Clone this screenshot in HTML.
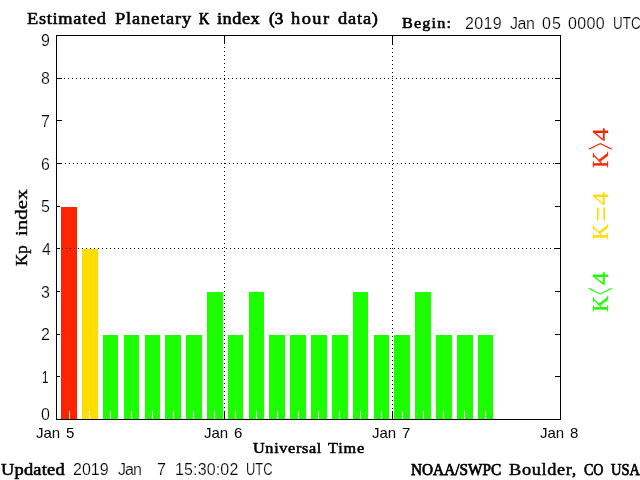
<!DOCTYPE html>
<html lang="en">
<head>
<meta charset="utf-8">
<title>Estimated Planetary K index</title>
<style>
html,body{margin:0;padding:0;background:#fff;}
body{width:640px;height:480px;position:relative;overflow:hidden;color:#000;}
svg{position:absolute;left:0;top:0;}
.t{position:absolute;white-space:pre;line-height:1;margin:0;padding:0;}
.serif{font-family:"Liberation Serif",serif;}
.sans{font-family:"Liberation Sans",sans-serif;-webkit-text-stroke:0.2px #fff;}
</style>
</head>
<body>
<svg width="640" height="480" viewBox="0 0 640 480" shape-rendering="crispEdges">
<rect x="56" y="35" width="505" height="1" fill="#000"/>
<rect x="56" y="419" width="505" height="1" fill="#000"/>
<rect x="56" y="35" width="1" height="385" fill="#000"/>
<rect x="560" y="35" width="1" height="385" fill="#000"/>
<rect x="57" y="376" width="5" height="1" fill="#000"/>
<rect x="555" y="376" width="5" height="1" fill="#000"/>
<rect x="57" y="334" width="5" height="1" fill="#000"/>
<rect x="555" y="334" width="5" height="1" fill="#000"/>
<rect x="57" y="291" width="5" height="1" fill="#000"/>
<rect x="555" y="291" width="5" height="1" fill="#000"/>
<rect x="57" y="248" width="5" height="1" fill="#000"/>
<rect x="555" y="248" width="5" height="1" fill="#000"/>
<rect x="57" y="206" width="5" height="1" fill="#000"/>
<rect x="555" y="206" width="5" height="1" fill="#000"/>
<rect x="57" y="163" width="5" height="1" fill="#000"/>
<rect x="555" y="163" width="5" height="1" fill="#000"/>
<rect x="57" y="120" width="5" height="1" fill="#000"/>
<rect x="555" y="120" width="5" height="1" fill="#000"/>
<rect x="57" y="78" width="5" height="1" fill="#000"/>
<rect x="555" y="78" width="5" height="1" fill="#000"/>
<rect x="224" y="36" width="1" height="8" fill="#000"/>
<rect x="224" y="411" width="1" height="8" fill="#000"/>
<rect x="392" y="36" width="1" height="8" fill="#000"/>
<rect x="392" y="411" width="1" height="8" fill="#000"/>
<rect x="60" y="206" width="18" height="213" fill="#fff"/>
<rect x="61" y="207" width="16" height="212" fill="#ff2400"/>
<rect x="81" y="248" width="18" height="171" fill="#fff"/>
<rect x="82" y="249" width="16" height="170" fill="#ffdd00"/>
<rect x="102" y="334" width="17" height="85" fill="#fff"/>
<rect x="103" y="335" width="15" height="84" fill="#1cff00"/>
<rect x="123" y="334" width="17" height="85" fill="#fff"/>
<rect x="124" y="335" width="15" height="84" fill="#1cff00"/>
<rect x="144" y="334" width="17" height="85" fill="#fff"/>
<rect x="145" y="335" width="15" height="84" fill="#1cff00"/>
<rect x="164" y="334" width="18" height="85" fill="#fff"/>
<rect x="165" y="335" width="16" height="84" fill="#1cff00"/>
<rect x="185" y="334" width="18" height="85" fill="#fff"/>
<rect x="186" y="335" width="16" height="84" fill="#1cff00"/>
<rect x="206" y="291" width="18" height="128" fill="#fff"/>
<rect x="207" y="292" width="16" height="127" fill="#1cff00"/>
<rect x="227" y="334" width="17" height="85" fill="#fff"/>
<rect x="228" y="335" width="15" height="84" fill="#1cff00"/>
<rect x="248" y="291" width="17" height="128" fill="#fff"/>
<rect x="249" y="292" width="15" height="127" fill="#1cff00"/>
<rect x="268" y="334" width="18" height="85" fill="#fff"/>
<rect x="269" y="335" width="16" height="84" fill="#1cff00"/>
<rect x="289" y="334" width="18" height="85" fill="#fff"/>
<rect x="290" y="335" width="16" height="84" fill="#1cff00"/>
<rect x="310" y="334" width="18" height="85" fill="#fff"/>
<rect x="311" y="335" width="16" height="84" fill="#1cff00"/>
<rect x="331" y="334" width="18" height="85" fill="#fff"/>
<rect x="332" y="335" width="16" height="84" fill="#1cff00"/>
<rect x="352" y="291" width="17" height="128" fill="#fff"/>
<rect x="353" y="292" width="15" height="127" fill="#1cff00"/>
<rect x="373" y="334" width="17" height="85" fill="#fff"/>
<rect x="374" y="335" width="15" height="84" fill="#1cff00"/>
<rect x="393" y="334" width="18" height="85" fill="#fff"/>
<rect x="394" y="335" width="16" height="84" fill="#1cff00"/>
<rect x="414" y="291" width="18" height="128" fill="#fff"/>
<rect x="415" y="292" width="16" height="127" fill="#1cff00"/>
<rect x="435" y="334" width="18" height="85" fill="#fff"/>
<rect x="436" y="335" width="16" height="84" fill="#1cff00"/>
<rect x="456" y="334" width="18" height="85" fill="#fff"/>
<rect x="457" y="335" width="16" height="84" fill="#1cff00"/>
<rect x="477" y="334" width="17" height="85" fill="#fff"/>
<rect x="478" y="335" width="15" height="84" fill="#1cff00"/>
<path d="M64 78h1v1h-1zM68 78h1v1h-1zM72 78h1v1h-1zM76 78h1v1h-1zM80 78h1v1h-1zM84 78h1v1h-1zM88 78h1v1h-1zM92 78h1v1h-1zM96 78h1v1h-1zM100 78h1v1h-1zM104 78h1v1h-1zM108 78h1v1h-1zM112 78h1v1h-1zM116 78h1v1h-1zM120 78h1v1h-1zM124 78h1v1h-1zM128 78h1v1h-1zM132 78h1v1h-1zM136 78h1v1h-1zM140 78h1v1h-1zM144 78h1v1h-1zM148 78h1v1h-1zM152 78h1v1h-1zM156 78h1v1h-1zM160 78h1v1h-1zM164 78h1v1h-1zM168 78h1v1h-1zM172 78h1v1h-1zM176 78h1v1h-1zM180 78h1v1h-1zM184 78h1v1h-1zM188 78h1v1h-1zM192 78h1v1h-1zM196 78h1v1h-1zM200 78h1v1h-1zM204 78h1v1h-1zM208 78h1v1h-1zM212 78h1v1h-1zM216 78h1v1h-1zM220 78h1v1h-1zM224 78h1v1h-1zM228 78h1v1h-1zM232 78h1v1h-1zM236 78h1v1h-1zM240 78h1v1h-1zM244 78h1v1h-1zM248 78h1v1h-1zM252 78h1v1h-1zM256 78h1v1h-1zM260 78h1v1h-1zM264 78h1v1h-1zM268 78h1v1h-1zM272 78h1v1h-1zM276 78h1v1h-1zM280 78h1v1h-1zM284 78h1v1h-1zM288 78h1v1h-1zM292 78h1v1h-1zM296 78h1v1h-1zM300 78h1v1h-1zM304 78h1v1h-1zM308 78h1v1h-1zM312 78h1v1h-1zM316 78h1v1h-1zM320 78h1v1h-1zM324 78h1v1h-1zM328 78h1v1h-1zM332 78h1v1h-1zM336 78h1v1h-1zM340 78h1v1h-1zM344 78h1v1h-1zM348 78h1v1h-1zM352 78h1v1h-1zM356 78h1v1h-1zM360 78h1v1h-1zM364 78h1v1h-1zM368 78h1v1h-1zM372 78h1v1h-1zM376 78h1v1h-1zM380 78h1v1h-1zM384 78h1v1h-1zM388 78h1v1h-1zM392 78h1v1h-1zM396 78h1v1h-1zM400 78h1v1h-1zM404 78h1v1h-1zM408 78h1v1h-1zM412 78h1v1h-1zM416 78h1v1h-1zM420 78h1v1h-1zM424 78h1v1h-1zM428 78h1v1h-1zM432 78h1v1h-1zM436 78h1v1h-1zM440 78h1v1h-1zM444 78h1v1h-1zM448 78h1v1h-1zM452 78h1v1h-1zM456 78h1v1h-1zM460 78h1v1h-1zM464 78h1v1h-1zM468 78h1v1h-1zM472 78h1v1h-1zM476 78h1v1h-1zM480 78h1v1h-1zM484 78h1v1h-1zM488 78h1v1h-1zM492 78h1v1h-1zM496 78h1v1h-1zM500 78h1v1h-1zM504 78h1v1h-1zM508 78h1v1h-1zM512 78h1v1h-1zM516 78h1v1h-1zM520 78h1v1h-1zM524 78h1v1h-1zM528 78h1v1h-1zM532 78h1v1h-1zM536 78h1v1h-1zM540 78h1v1h-1zM544 78h1v1h-1zM548 78h1v1h-1zM552 78h1v1h-1zM65 163h1v1h-1zM69 163h1v1h-1zM73 163h1v1h-1zM77 163h1v1h-1zM81 163h1v1h-1zM85 163h1v1h-1zM89 163h1v1h-1zM93 163h1v1h-1zM97 163h1v1h-1zM101 163h1v1h-1zM105 163h1v1h-1zM109 163h1v1h-1zM113 163h1v1h-1zM117 163h1v1h-1zM121 163h1v1h-1zM125 163h1v1h-1zM129 163h1v1h-1zM133 163h1v1h-1zM137 163h1v1h-1zM141 163h1v1h-1zM145 163h1v1h-1zM149 163h1v1h-1zM153 163h1v1h-1zM157 163h1v1h-1zM161 163h1v1h-1zM165 163h1v1h-1zM169 163h1v1h-1zM173 163h1v1h-1zM177 163h1v1h-1zM181 163h1v1h-1zM185 163h1v1h-1zM189 163h1v1h-1zM193 163h1v1h-1zM197 163h1v1h-1zM201 163h1v1h-1zM205 163h1v1h-1zM209 163h1v1h-1zM213 163h1v1h-1zM217 163h1v1h-1zM221 163h1v1h-1zM225 163h1v1h-1zM229 163h1v1h-1zM233 163h1v1h-1zM237 163h1v1h-1zM241 163h1v1h-1zM245 163h1v1h-1zM249 163h1v1h-1zM253 163h1v1h-1zM257 163h1v1h-1zM261 163h1v1h-1zM265 163h1v1h-1zM269 163h1v1h-1zM273 163h1v1h-1zM277 163h1v1h-1zM281 163h1v1h-1zM285 163h1v1h-1zM289 163h1v1h-1zM293 163h1v1h-1zM297 163h1v1h-1zM301 163h1v1h-1zM305 163h1v1h-1zM309 163h1v1h-1zM313 163h1v1h-1zM317 163h1v1h-1zM321 163h1v1h-1zM325 163h1v1h-1zM329 163h1v1h-1zM333 163h1v1h-1zM337 163h1v1h-1zM341 163h1v1h-1zM345 163h1v1h-1zM349 163h1v1h-1zM353 163h1v1h-1zM357 163h1v1h-1zM361 163h1v1h-1zM365 163h1v1h-1zM369 163h1v1h-1zM373 163h1v1h-1zM377 163h1v1h-1zM381 163h1v1h-1zM385 163h1v1h-1zM389 163h1v1h-1zM393 163h1v1h-1zM397 163h1v1h-1zM401 163h1v1h-1zM405 163h1v1h-1zM409 163h1v1h-1zM413 163h1v1h-1zM417 163h1v1h-1zM421 163h1v1h-1zM425 163h1v1h-1zM429 163h1v1h-1zM433 163h1v1h-1zM437 163h1v1h-1zM441 163h1v1h-1zM445 163h1v1h-1zM449 163h1v1h-1zM453 163h1v1h-1zM457 163h1v1h-1zM461 163h1v1h-1zM465 163h1v1h-1zM469 163h1v1h-1zM473 163h1v1h-1zM477 163h1v1h-1zM481 163h1v1h-1zM485 163h1v1h-1zM489 163h1v1h-1zM493 163h1v1h-1zM497 163h1v1h-1zM501 163h1v1h-1zM505 163h1v1h-1zM509 163h1v1h-1zM513 163h1v1h-1zM517 163h1v1h-1zM521 163h1v1h-1zM525 163h1v1h-1zM529 163h1v1h-1zM533 163h1v1h-1zM537 163h1v1h-1zM541 163h1v1h-1zM545 163h1v1h-1zM549 163h1v1h-1zM553 163h1v1h-1zM62 248h1v1h-1zM66 248h1v1h-1zM70 248h1v1h-1zM74 248h1v1h-1zM78 248h1v1h-1zM82 248h1v1h-1zM86 248h1v1h-1zM90 248h1v1h-1zM94 248h1v1h-1zM98 248h1v1h-1zM102 248h1v1h-1zM106 248h1v1h-1zM110 248h1v1h-1zM114 248h1v1h-1zM118 248h1v1h-1zM122 248h1v1h-1zM126 248h1v1h-1zM130 248h1v1h-1zM134 248h1v1h-1zM138 248h1v1h-1zM142 248h1v1h-1zM146 248h1v1h-1zM150 248h1v1h-1zM154 248h1v1h-1zM158 248h1v1h-1zM162 248h1v1h-1zM166 248h1v1h-1zM170 248h1v1h-1zM174 248h1v1h-1zM178 248h1v1h-1zM182 248h1v1h-1zM186 248h1v1h-1zM190 248h1v1h-1zM194 248h1v1h-1zM198 248h1v1h-1zM202 248h1v1h-1zM206 248h1v1h-1zM210 248h1v1h-1zM214 248h1v1h-1zM218 248h1v1h-1zM222 248h1v1h-1zM226 248h1v1h-1zM230 248h1v1h-1zM234 248h1v1h-1zM238 248h1v1h-1zM242 248h1v1h-1zM246 248h1v1h-1zM250 248h1v1h-1zM254 248h1v1h-1zM258 248h1v1h-1zM262 248h1v1h-1zM266 248h1v1h-1zM270 248h1v1h-1zM274 248h1v1h-1zM278 248h1v1h-1zM282 248h1v1h-1zM286 248h1v1h-1zM290 248h1v1h-1zM294 248h1v1h-1zM298 248h1v1h-1zM302 248h1v1h-1zM306 248h1v1h-1zM310 248h1v1h-1zM314 248h1v1h-1zM318 248h1v1h-1zM322 248h1v1h-1zM326 248h1v1h-1zM330 248h1v1h-1zM334 248h1v1h-1zM338 248h1v1h-1zM342 248h1v1h-1zM346 248h1v1h-1zM350 248h1v1h-1zM354 248h1v1h-1zM358 248h1v1h-1zM362 248h1v1h-1zM366 248h1v1h-1zM370 248h1v1h-1zM374 248h1v1h-1zM378 248h1v1h-1zM382 248h1v1h-1zM386 248h1v1h-1zM390 248h1v1h-1zM394 248h1v1h-1zM398 248h1v1h-1zM402 248h1v1h-1zM406 248h1v1h-1zM410 248h1v1h-1zM414 248h1v1h-1zM418 248h1v1h-1zM422 248h1v1h-1zM426 248h1v1h-1zM430 248h1v1h-1zM434 248h1v1h-1zM438 248h1v1h-1zM442 248h1v1h-1zM446 248h1v1h-1zM450 248h1v1h-1zM454 248h1v1h-1zM458 248h1v1h-1zM462 248h1v1h-1zM466 248h1v1h-1zM470 248h1v1h-1zM474 248h1v1h-1zM478 248h1v1h-1zM482 248h1v1h-1zM486 248h1v1h-1zM490 248h1v1h-1zM494 248h1v1h-1zM498 248h1v1h-1zM502 248h1v1h-1zM506 248h1v1h-1zM510 248h1v1h-1zM514 248h1v1h-1zM518 248h1v1h-1zM522 248h1v1h-1zM526 248h1v1h-1zM530 248h1v1h-1zM534 248h1v1h-1zM538 248h1v1h-1zM542 248h1v1h-1zM546 248h1v1h-1zM550 248h1v1h-1zM554 248h1v1h-1zM224 47h1v1h-1zM224 51h1v1h-1zM224 55h1v1h-1zM224 59h1v1h-1zM224 63h1v1h-1zM224 67h1v1h-1zM224 71h1v1h-1zM224 75h1v1h-1zM224 79h1v1h-1zM224 83h1v1h-1zM224 87h1v1h-1zM224 91h1v1h-1zM224 95h1v1h-1zM224 99h1v1h-1zM224 103h1v1h-1zM224 107h1v1h-1zM224 111h1v1h-1zM224 115h1v1h-1zM224 119h1v1h-1zM224 123h1v1h-1zM224 127h1v1h-1zM224 131h1v1h-1zM224 135h1v1h-1zM224 139h1v1h-1zM224 143h1v1h-1zM224 147h1v1h-1zM224 151h1v1h-1zM224 155h1v1h-1zM224 159h1v1h-1zM224 163h1v1h-1zM224 167h1v1h-1zM224 171h1v1h-1zM224 175h1v1h-1zM224 179h1v1h-1zM224 183h1v1h-1zM224 187h1v1h-1zM224 191h1v1h-1zM224 195h1v1h-1zM224 199h1v1h-1zM224 203h1v1h-1zM224 207h1v1h-1zM224 211h1v1h-1zM224 215h1v1h-1zM224 219h1v1h-1zM224 223h1v1h-1zM224 227h1v1h-1zM224 231h1v1h-1zM224 235h1v1h-1zM224 239h1v1h-1zM224 243h1v1h-1zM224 247h1v1h-1zM224 251h1v1h-1zM224 255h1v1h-1zM224 259h1v1h-1zM224 263h1v1h-1zM224 267h1v1h-1zM224 271h1v1h-1zM224 275h1v1h-1zM224 279h1v1h-1zM224 283h1v1h-1zM224 287h1v1h-1zM224 291h1v1h-1zM224 295h1v1h-1zM224 299h1v1h-1zM224 303h1v1h-1zM224 307h1v1h-1zM224 311h1v1h-1zM224 315h1v1h-1zM224 319h1v1h-1zM224 323h1v1h-1zM224 327h1v1h-1zM224 331h1v1h-1zM224 335h1v1h-1zM224 339h1v1h-1zM224 343h1v1h-1zM224 347h1v1h-1zM224 351h1v1h-1zM224 355h1v1h-1zM224 359h1v1h-1zM224 363h1v1h-1zM224 367h1v1h-1zM224 371h1v1h-1zM224 375h1v1h-1zM224 379h1v1h-1zM224 383h1v1h-1zM224 387h1v1h-1zM224 391h1v1h-1zM224 395h1v1h-1zM224 399h1v1h-1zM224 403h1v1h-1zM224 407h1v1h-1zM392 44h1v1h-1zM392 48h1v1h-1zM392 52h1v1h-1zM392 56h1v1h-1zM392 60h1v1h-1zM392 64h1v1h-1zM392 68h1v1h-1zM392 72h1v1h-1zM392 76h1v1h-1zM392 80h1v1h-1zM392 84h1v1h-1zM392 88h1v1h-1zM392 92h1v1h-1zM392 96h1v1h-1zM392 100h1v1h-1zM392 104h1v1h-1zM392 108h1v1h-1zM392 112h1v1h-1zM392 116h1v1h-1zM392 120h1v1h-1zM392 124h1v1h-1zM392 128h1v1h-1zM392 132h1v1h-1zM392 136h1v1h-1zM392 140h1v1h-1zM392 144h1v1h-1zM392 148h1v1h-1zM392 152h1v1h-1zM392 156h1v1h-1zM392 160h1v1h-1zM392 164h1v1h-1zM392 168h1v1h-1zM392 172h1v1h-1zM392 176h1v1h-1zM392 180h1v1h-1zM392 184h1v1h-1zM392 188h1v1h-1zM392 192h1v1h-1zM392 196h1v1h-1zM392 200h1v1h-1zM392 204h1v1h-1zM392 208h1v1h-1zM392 212h1v1h-1zM392 216h1v1h-1zM392 220h1v1h-1zM392 224h1v1h-1zM392 228h1v1h-1zM392 232h1v1h-1zM392 236h1v1h-1zM392 240h1v1h-1zM392 244h1v1h-1zM392 248h1v1h-1zM392 252h1v1h-1zM392 256h1v1h-1zM392 260h1v1h-1zM392 264h1v1h-1zM392 268h1v1h-1zM392 272h1v1h-1zM392 276h1v1h-1zM392 280h1v1h-1zM392 284h1v1h-1zM392 288h1v1h-1zM392 292h1v1h-1zM392 296h1v1h-1zM392 300h1v1h-1zM392 304h1v1h-1zM392 308h1v1h-1zM392 312h1v1h-1zM392 316h1v1h-1zM392 320h1v1h-1zM392 324h1v1h-1zM392 328h1v1h-1zM392 332h1v1h-1zM392 336h1v1h-1zM392 340h1v1h-1zM392 344h1v1h-1zM392 348h1v1h-1zM392 352h1v1h-1zM392 356h1v1h-1zM392 360h1v1h-1zM392 364h1v1h-1zM392 368h1v1h-1zM392 372h1v1h-1zM392 376h1v1h-1zM392 380h1v1h-1zM392 384h1v1h-1zM392 388h1v1h-1zM392 392h1v1h-1zM392 396h1v1h-1zM392 400h1v1h-1zM392 404h1v1h-1zM392 408h1v1h-1z" fill="#000"/>
<rect x="69" y="411" width="1" height="8" fill="#fff"/>
<rect x="89" y="411" width="1" height="8" fill="#fff"/>
<rect x="110" y="411" width="1" height="8" fill="#fff"/>
<rect x="131" y="411" width="1" height="8" fill="#fff"/>
<rect x="152" y="411" width="1" height="8" fill="#fff"/>
<rect x="173" y="411" width="1" height="8" fill="#fff"/>
<rect x="193" y="411" width="1" height="8" fill="#fff"/>
<rect x="214" y="411" width="1" height="8" fill="#fff"/>
<rect x="235" y="411" width="1" height="8" fill="#fff"/>
<rect x="256" y="411" width="1" height="8" fill="#fff"/>
<rect x="277" y="411" width="1" height="8" fill="#fff"/>
<rect x="298" y="411" width="1" height="8" fill="#fff"/>
<rect x="318" y="411" width="1" height="8" fill="#fff"/>
<rect x="339" y="411" width="1" height="8" fill="#fff"/>
<rect x="360" y="411" width="1" height="8" fill="#fff"/>
<rect x="381" y="411" width="1" height="8" fill="#fff"/>
<rect x="402" y="411" width="1" height="8" fill="#fff"/>
<rect x="423" y="411" width="1" height="8" fill="#fff"/>
<rect x="443" y="411" width="1" height="8" fill="#fff"/>
<rect x="464" y="411" width="1" height="8" fill="#fff"/>
<rect x="485" y="411" width="1" height="8" fill="#fff"/>
</svg>
<div class="g title"><span class="t serif" style="font-size:17px;letter-spacing:0.644px;-webkit-text-stroke:0.55px #000;left:27.00px;top:10px;transform-origin:0 0;transform:scaleX(1.0800);">Estimated</span> <span class="t serif" style="font-size:17px;letter-spacing:0.796px;-webkit-text-stroke:0.55px #000;left:115.00px;top:10px;transform-origin:0 0;transform:scaleX(1.0800);">Planetary</span> <span class="t serif" style="font-size:17px;-webkit-text-stroke:0.75px #000;left:199.00px;top:10px;transform-origin:0 0;transform:scaleX(0.8333);">K</span> <span class="t serif" style="font-size:17px;letter-spacing:0.454px;-webkit-text-stroke:0.55px #000;left:217.00px;top:10px;transform-origin:0 0;transform:scaleX(1.0800);">index</span> <span class="t serif" style="font-size:17px;-webkit-text-stroke:0.75px #000;left:269.00px;top:10px;">(3</span> <span class="t serif" style="font-size:17px;letter-spacing:1.395px;-webkit-text-stroke:0.55px #000;left:291.00px;top:10px;transform-origin:0 0;transform:scaleX(1.0800);">hour</span> <span class="t serif" style="font-size:17px;letter-spacing:0.759px;-webkit-text-stroke:0.55px #000;left:338.00px;top:10px;transform-origin:0 0;transform:scaleX(1.0800);">data)</span></div>
<div class="g begin"><span class="t serif" style="font-size:15px;letter-spacing:1.089px;-webkit-text-stroke:0.55px #000;left:402.00px;top:16px;transform-origin:0 0;transform:scaleX(1.0800);">Begin:</span> <span class="t sans" style="font-size:16px;letter-spacing:0.333px;left:465.00px;top:16px;">2019</span> <span class="t sans" style="font-size:16px;letter-spacing:-0.5px;left:510.00px;top:16px;">Jan</span> <span class="t sans" style="font-size:16px;letter-spacing:1.0px;left:542.00px;top:16px;">05</span> <span class="t sans" style="font-size:16px;letter-spacing:0.333px;left:568.00px;top:16px;">0000</span> <span class="t sans" style="font-size:16px;left:613.16px;top:16px;transform-origin:0 0;transform:scaleX(0.8387);">UTC</span></div>
<div class="g yticks"><span class="t sans" style="font-size:16px;left:41.00px;top:33px;">9</span> <span class="t sans" style="font-size:16px;left:41.00px;top:71px;">8</span> <span class="t sans" style="font-size:16px;left:41.00px;top:114px;">7</span> <span class="t sans" style="font-size:16px;left:41.00px;top:157px;">6</span> <span class="t sans" style="font-size:16px;left:41.00px;top:199px;">5</span> <span class="t sans" style="font-size:16px;left:42.00px;top:242px;">4</span> <span class="t sans" style="font-size:16px;left:41.00px;top:285px;">3</span> <span class="t sans" style="font-size:16px;left:41.00px;top:327px;">2</span> <span class="t sans" style="font-size:16px;-webkit-text-stroke:0;left:42.29px;top:370px;transform-origin:0 0;transform:scaleX(0.7143);">1</span> <span class="t sans" style="font-size:16px;left:41.00px;top:407px;">0</span></div>
<div class="g xticks"><span class="t sans" style="font-size:15px;-webkit-text-stroke:0;left:36.00px;top:425px;">Jan</span> <span class="t sans" style="font-size:15px;-webkit-text-stroke:0;left:66.00px;top:425px;">5</span> <span class="t sans" style="font-size:15px;-webkit-text-stroke:0;left:204.00px;top:425px;">Jan</span> <span class="t sans" style="font-size:15px;-webkit-text-stroke:0;left:234.00px;top:425px;">6</span> <span class="t sans" style="font-size:15px;-webkit-text-stroke:0;left:372.00px;top:425px;">Jan</span> <span class="t sans" style="font-size:15px;-webkit-text-stroke:0;left:402.00px;top:425px;">7</span> <span class="t sans" style="font-size:15px;-webkit-text-stroke:0;left:540.00px;top:425px;">Jan</span> <span class="t sans" style="font-size:15px;-webkit-text-stroke:0;left:570.00px;top:425px;">8</span></div>
<div class="g xtitle"><span class="t serif" style="font-size:15px;letter-spacing:0.62px;-webkit-text-stroke:0.55px #000;left:253.00px;top:441px;transform-origin:0 0;transform:scaleX(1.0800);">Universal</span> <span class="t serif" style="font-size:15px;letter-spacing:0.778px;-webkit-text-stroke:0.55px #000;left:328.00px;top:441px;transform-origin:0 0;transform:scaleX(1.0800);">Time</span></div>
<div class="g updated"><span class="t serif" style="font-size:17px;letter-spacing:0.21px;-webkit-text-stroke:0.55px #000;left:1.00px;top:461px;transform-origin:0 0;transform:scaleX(1.0800);">Updated</span> <span class="t sans" style="font-size:16px;left:73.00px;top:462px;">2019</span> <span class="t sans" style="font-size:16px;letter-spacing:-1.0px;left:118.00px;top:462px;">Jan</span> <span class="t sans" style="font-size:16px;left:157.00px;top:462px;">7</span> <span class="t sans" style="font-size:16px;letter-spacing:0.143px;left:175.00px;top:462px;">15:30:02</span> <span class="t sans" style="font-size:16px;left:246.19px;top:462px;transform-origin:0 0;transform:scaleX(0.8065);">UTC</span></div>
<div class="g source"><span class="t serif" style="font-size:17px;-webkit-text-stroke:0.75px #000;left:411.00px;top:461px;transform-origin:0 0;transform:scaleX(0.9000);">NOAA/SWPC</span> <span class="t serif" style="font-size:17px;letter-spacing:0.587px;-webkit-text-stroke:0.45px #000;left:509.00px;top:461px;transform-origin:0 0;transform:scaleX(1.0800);">Boulder,</span> <span class="t serif" style="font-size:17px;-webkit-text-stroke:0.75px #000;left:584.00px;top:461px;transform-origin:0 0;transform:scaleX(0.8261);">CO</span> <span class="t serif" style="font-size:17px;-webkit-text-stroke:0.75px #000;left:611.00px;top:461px;transform-origin:0 0;transform:scaleX(0.8529);">USA</span></div>
<div class="g ytitle"><span class="t serif" style="font-size:17px;-webkit-text-stroke:0.35px #000;left:13.00px;top:266.00px;transform-origin:0 0;transform:rotate(-90deg) scale(1.0000,1.0000);">Kp</span> <span class="t serif" style="font-size:17px;-webkit-text-stroke:0.35px #000;left:13.00px;top:236.00px;transform-origin:0 0;transform:rotate(-90deg) scale(1.2368,1.0000);">index</span></div>
<div class="g leg-red"><span class="t serif" style="font-size:24px;color:#ff2400;-webkit-text-stroke:0.25px #ff2400;left:588.00px;top:167.94px;transform-origin:0 0;transform:rotate(-90deg) scale(0.9375,1.0000);">K</span><span class="t serif" style="font-size:24px;color:#ff2400;left:573.73px;top:149.55px;transform-origin:0 0;transform:rotate(-90deg) scale(0.5455,2.1818);">&gt;</span><span class="t serif" style="font-size:24px;color:#ff2400;-webkit-text-stroke:0.25px #ff2400;left:588.00px;top:141.00px;transform-origin:0 0;transform:rotate(-90deg) scale(1.0833,1.0000);">4</span></div>
<div class="g leg-yel"><span class="t serif" style="font-size:24px;color:#ffdd00;-webkit-text-stroke:0.25px #ffdd00;left:588.00px;top:239.94px;transform-origin:0 0;transform:rotate(-90deg) scale(0.9375,1.0000);">K</span><span class="t serif" style="font-size:24px;color:#ffdd00;left:585.00px;top:222.18px;transform-origin:0 0;transform:rotate(-90deg) scale(1.1818,1.3333);">=</span><span class="t serif" style="font-size:24px;color:#ffdd00;-webkit-text-stroke:0.25px #ffdd00;left:588.00px;top:205.00px;transform-origin:0 0;transform:rotate(-90deg) scale(1.0833,1.0000);">4</span></div>
<div class="g leg-grn"><span class="t serif" style="font-size:24px;color:#1cff00;-webkit-text-stroke:0.25px #1cff00;left:588.00px;top:311.94px;transform-origin:0 0;transform:rotate(-90deg) scale(0.9375,1.0000);">K</span><span class="t serif" style="font-size:24px;color:#1cff00;left:573.73px;top:294.55px;transform-origin:0 0;transform:rotate(-90deg) scale(0.5455,2.1818);">&lt;</span><span class="t serif" style="font-size:24px;color:#1cff00;-webkit-text-stroke:0.25px #1cff00;left:588.00px;top:285.00px;transform-origin:0 0;transform:rotate(-90deg) scale(1.0833,1.0000);">4</span></div>
</body>
</html>
